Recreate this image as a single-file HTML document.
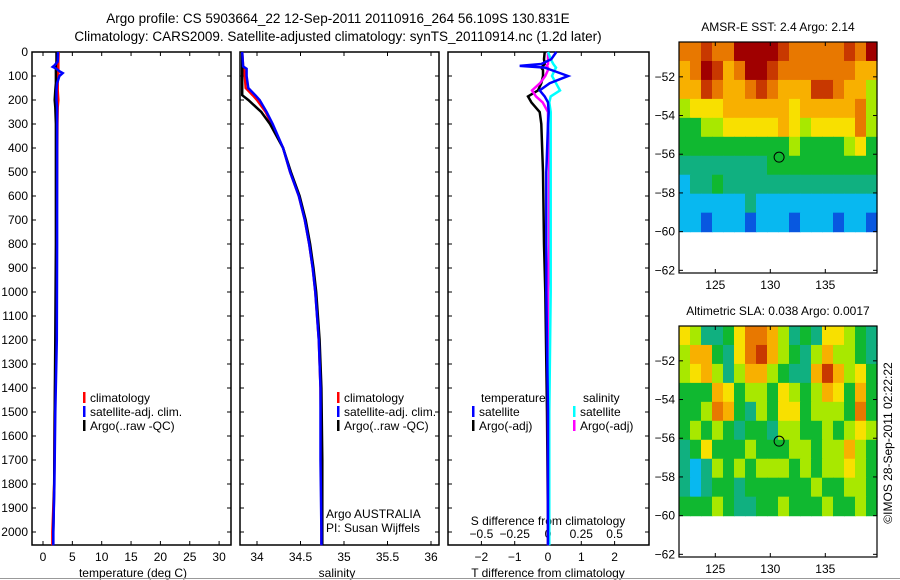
<!DOCTYPE html>
<html><head><meta charset="utf-8"><style>
html,body{margin:0;padding:0;background:#fff;}
svg{display:block;font-family:"Liberation Sans",sans-serif;}
</style></head><body>
<svg id="fig" width="900" height="580" viewBox="0 0 900 580" xmlns="http://www.w3.org/2000/svg">
<rect x="0" y="0" width="900" height="580" fill="#fff"/>
<text x="338" y="23" font-size="13.5" text-anchor="middle">Argo profile: CS 5903664_22 12-Sep-2011 20110916_264 56.109S 130.831E</text>
<text x="338" y="41" font-size="13.5" text-anchor="middle">Climatology: CARS2009. Satellite-adjusted climatology: synTS_20110914.nc (1.2d later)</text>
<g id="layer"></g>
<line x1="0" y1="578.5" x2="900" y2="578.5" stroke="#999" stroke-width="1"/>
</svg>
<script>
// ---- profile data ----
const tDepth = [0, 40, 55, 62, 70, 80, 88, 100, 130, 160, 200, 230, 300, 500, 800, 1200, 1500, 1800, 2000, 2055];
const tClim = [2.65, 2.6, 2.6, 2.6, 2.6, 2.6, 2.6, 2.55, 2.5, 2.5, 2.6, 2.5, 2.45, 2.4, 2.3, 2.2, 2.0, 1.9, 1.6, 1.6];
const tSat = [2.55, 2.5, 2.0, 1.65, 2.3, 2.8, 3.35, 2.8, 2.4, 2.3, 2.3, 2.4, 2.4, 2.4, 2.4, 2.35, 2.1, 1.95, 1.75, 1.75];
const tArgo = [2.3, 2.3, 2.2, 2.2, 2.2, 2.2, 2.2, 2.2, 2.2, 2.1, 2.0, 2.1, 2.2, 2.2, 2.2, 2.1, 2.0, 1.9, 1.75, 1.75];
const sDepth = [0, 60, 70, 100, 150, 180, 200, 250, 300, 400, 500, 600, 700, 800, 900, 1000, 1200, 1400, 1700, 2000, 2055];
const sClim = [33.83, 33.84, 33.85, 33.86, 33.87, 33.95, 34.0, 34.1, 34.17, 34.3, 34.38, 34.48, 34.55, 34.6, 34.64, 34.67, 34.71, 34.73, 34.74, 34.74, 34.74];
const sSat = [33.83, 33.84, 33.88, 33.88, 33.9, 33.98, 34.03, 34.11, 34.18, 34.3, 34.38, 34.48, 34.55, 34.6, 34.64, 34.67, 34.71, 34.73, 34.73, 34.74, 34.74];
const sArgo = [33.83, 33.83, 33.83, 33.83, 33.83, 33.83, 33.9, 34.05, 34.15, 34.3, 34.39, 34.49, 34.56, 34.61, 34.65, 34.68, 34.72, 34.74, 34.75, 34.75, 34.75];
const dDepth = [0, 30, 50, 58, 65, 75, 100, 130, 160, 185, 210, 250, 300, 500, 800, 1000, 1500, 2000, 2055];
const dTsat = [0.25, 0.1, -0.2, -0.85, -0.1, 0.1, 0.6, 0.05, -0.25, -0.1, 0.0, 0.02, 0.0, -0.05, -0.05, -0.05, 0.0, 0.0, 0.0];
const dTargo = [-0.1, -0.12, -0.1, -0.15, -0.2, -0.15, -0.15, -0.2, -0.3, -0.6, -0.5, -0.25, -0.2, -0.15, -0.12, -0.08, -0.03, 0.0, 0.0];
const dSsat = [0.0, 0.02, 0.04, 0.05, 0.06, 0.05, 0.03, 0.06, 0.09, 0.02, 0.01, 0.02, 0.02, 0.02, 0.02, 0.02, 0.01, 0.01, 0.01];
const dSargo = [0.0, 0.0, 0.0, -0.01, 0.0, 0.0, -0.02, -0.06, -0.12, -0.09, -0.04, 0.0, 0.0, 0.01, 0.01, 0.0, 0.0, 0.0, 0.0];
const depthTicks = [0,100,200,300,400,500,600,700,800,900,1000,1100,1200,1300,1400,1500,1600,1700,1800,1900,2000];
const tempTicks = [0,5,10,15,20,25,30];
const salTicks = [34,34.5,35,35.5,36];
const dTTicks = [-2,-1,0,1,2];
const dSTicks = [-0.5,-0.25,0,0.25,0.5];
// ---- map data (colour levels 0 blue .. 9 dark red) ----
const mapLats = [-50.2, -60];
const mapLons = [121.7, 139.7];
const sstGrid = [
[7,7,8,7,7,9,9,9,9,8,7,7,7,7,7,8,7,9],
[6,7,9,8,6,7,9,9,8,7,7,7,7,7,7,7,6,6],
[6,6,8,7,6,6,7,8,7,6,6,6,8,8,7,6,6,4],
[4,5,5,5,6,6,6,6,6,6,5,6,6,6,6,6,7,4],
[3,3,4,4,5,5,5,5,5,6,5,4,5,5,5,5,7,4],
[3,3,3,3,3,3,3,3,3,3,4,3,3,3,3,4,5,3],
[2,2,2,2,2,2,2,2,3,3,3,3,3,3,3,3,3,3],
[1,2,2,3,2,2,2,2,2,2,2,2,2,2,2,2,2,2],
[1,1,1,1,1,1,2,1,1,1,1,1,1,1,1,1,1,1],
[1,1,0,1,1,1,0,1,1,1,0,1,1,1,0,1,1,0]];
const slaGrid = [
[5,4,2,2,3,5,7,7,6,4,2,3,2,5,5,4,3,2],
[4,6,6,3,2,5,7,8,6,4,3,2,4,6,4,4,3,2],
[4,5,6,4,2,4,6,6,4,3,2,2,6,8,6,4,5,3],
[3,3,3,6,5,3,4,4,3,5,4,3,4,6,5,3,6,3],
[3,3,4,7,6,3,2,4,3,5,5,3,4,4,4,3,7,3],
[3,4,3,4,3,2,3,3,2,4,4,3,3,4,3,4,5,4],
[2,3,5,3,3,3,4,3,3,3,4,4,3,4,4,6,4,3],
[2,1,2,4,3,4,3,4,4,4,3,4,3,4,4,5,4,3],
[2,1,2,3,3,2,3,3,3,3,3,3,4,3,3,4,4,3],
[3,3,3,4,3,2,2,3,3,4,3,3,3,4,3,3,4,3]];
const floatPos = [130.8, -56.15];
const latTicks = [-52,-54,-56,-58,-60,-62];
const lonTicks = [125,130,135];

const NS='http://www.w3.org/2000/svg';
const L=document.getElementById('layer');
function mk(tag,a,p){const e=document.createElementNS(NS,tag);for(const k in a)e.setAttribute(k,a[k]);(p||L).appendChild(e);return e;}
function txt(x,y,s,sz,anc,p){const e=mk('text',{x:x,y:y,'font-size':sz||12,'text-anchor':anc||'start'},p);e.textContent=s;return e;}
const yD=d=>52+d*0.24;
function panel(x0,x1,name){
  const g=mk('g',{});
  
  
  const r=mk('rect',{x:x0,y:52,width:x1-x0,height:493,fill:'none',stroke:'#000','stroke-width':1.5},g);
  
  
  depthTicks.forEach(d=>{mk('line',{x1:x0,x2:x0+4,y1:yD(d),y2:yD(d),stroke:'#000'},g);mk('line',{x1:x1-4,x2:x1,y1:yD(d),y2:yD(d),stroke:'#000'},g);});
  return g;
}
function line(g,xs,ds,fx,col,w,name){
  let p='';ds.forEach((d,i)=>{p+=(i?'L':'M')+fx(xs[i]).toFixed(1)+','+yD(d).toFixed(1);});
  const e=mk('path',{d:p,fill:'none',stroke:col,'stroke-width':w||2.5},g);
  
  
}
function legendItem(g,x,y,col,s,name){
  const e=mk('g',{},g);
  
  
  mk('rect',{x:x,y:y-10,width:2.5,height:11,fill:col},e);
  txt(x+7,y,s,12,'start',e);
}
// panel 1 temperature
const fT=t=>43+t*5.87;
const g1=panel(32,231,'temperature-panel');
depthTicks.forEach(d=>txt(28,yD(d)+4,String(d),12,'end',g1));
tempTicks.forEach(t=>{mk('line',{x1:fT(t),x2:fT(t),y1:52,y2:56,stroke:'#000'},g1);mk('line',{x1:fT(t),x2:fT(t),y1:541,y2:545,stroke:'#000'},g1);txt(fT(t),561,String(t),12,'middle',g1);});
txt(133,577,'temperature (deg C)',12,'middle',g1);
line(g1,tClim,tDepth,fT,'#f00',2.5,'temp-climatology-line');
line(g1,tArgo,tDepth,fT,'#000',2.5,'temp-argo-line');
line(g1,tSat,tDepth,fT,'#00f',2.5,'temp-satellite-line');
legendItem(g1,83,402,'#f00','climatology','legend-climatology');
legendItem(g1,83,416,'#00f','satellite-adj. clim.','legend-satellite');
legendItem(g1,83,430,'#000','Argo(..raw -QC)','legend-argo');
// panel 2 salinity
const fS=s=>257+(s-34)*87;
const g2=panel(240,439,'salinity-panel');
salTicks.forEach(s=>{mk('line',{x1:fS(s),x2:fS(s),y1:52,y2:56,stroke:'#000'},g2);mk('line',{x1:fS(s),x2:fS(s),y1:541,y2:545,stroke:'#000'},g2);txt(fS(s),561,String(s),12,'middle',g2);});
txt(337,577,'salinity',12,'middle',g2);
line(g2,sClim,sDepth,fS,'#f00',2.5,'sal-climatology-line');
line(g2,sArgo,sDepth,fS,'#000',2.5,'sal-argo-line');
line(g2,sSat,sDepth,fS,'#00f',2.5,'sal-satellite-line');
legendItem(g2,337,402,'#f00','climatology','legend-climatology-2');
legendItem(g2,337,416,'#00f','satellite-adj. clim.','legend-satellite-2');
legendItem(g2,337,430,'#000','Argo(..raw -QC)','legend-argo-2');
txt(326,518,'Argo AUSTRALIA',12,'start',g2);
txt(326,532,'PI: Susan Wijffels',12,'start',g2);
// panel 3 differences
const fdT=v=>548+v*33.3, fdS=v=>548+v*133.2;
const g3=panel(448,649,'difference-panel');
dTTicks.forEach(t=>{mk('line',{x1:fdT(t),x2:fdT(t),y1:52,y2:56,stroke:'#000'},g3);mk('line',{x1:fdT(t),x2:fdT(t),y1:541,y2:545,stroke:'#000'},g3);txt(fdT(t),561,t<0?'−'+(-t):String(t),12,'middle',g3);});
dSTicks.forEach(t=>txt(fdS(t),538,t<0?'−'+(-t):String(t),12,'middle',g3));
txt(548,525,'S difference from climatology',12,'middle',g3);
txt(548,577,'T difference from climatology',12,'middle',g3);
line(g3,dTargo,dDepth,fdT,'#000',2.5,'tdiff-argo-line');
line(g3,dSargo,dDepth,fdS,'#f0f',2.5,'sdiff-argo-line');
line(g3,dSsat,dDepth,fdS,'#0ff',2.5,'sdiff-satellite-line');
line(g3,dTsat,dDepth,fdT,'#00f',2.5,'tdiff-satellite-line');
txt(481,402,'temperature',12,'start',g3);
txt(583,402,'salinity',12,'start',g3);
legendItem(g3,472,416,'#00f','satellite','legend-tdiff-satellite');
legendItem(g3,472,430,'#000','Argo(-adj)','legend-tdiff-argo');
legendItem(g3,573,416,'#0ff','satellite','legend-sdiff-satellite');
legendItem(g3,573,430,'#f0f','Argo(-adj)','legend-sdiff-argo');
// maps
const pal=['#0858e0','#08b8f0','#10b080','#10b830','#a8e800','#f8e000','#f8b000','#e87800','#c83800','#a00000'];
function map(y0,grid,title,name){
  const x0=679,x1=877,h=231,y1=y0+h;
  const fx=lo=>x0+(lo-mapLons[0])*(x1-x0)/(mapLons[1]-mapLons[0]);
  const fy=la=>y0+(mapLats[0]-la)*19.35;
  const g=mk('g',{});
  
  
  const nr=grid.length,nc=grid[0].length;
  const cw=(x1-x0)/nc, ch=(fy(mapLats[1])-y0)/nr;
  grid.forEach((row,i)=>row.forEach((v,j)=>{
    const c=mk('rect',{x:(x0+j*cw).toFixed(2),y:(y0+i*ch).toFixed(2),width:(cw+0.6).toFixed(2),height:(ch+0.6).toFixed(2),fill:pal[v]},g);
    
    
  }));
  const fr=mk('rect',{x:x0,y:y0,width:x1-x0,height:h,fill:'none',stroke:'#000','stroke-width':1.2},g);
  
  
  latTicks.forEach(la=>{const y=fy(la);mk('line',{x1:x0,x2:x0+4,y1:y,y2:y,stroke:'#000'},g);mk('line',{x1:x1-4,x2:x1,y1:y,y2:y,stroke:'#000'},g);txt(x0-4,y+4,'−'+(-la),12,'end',g);});
  lonTicks.forEach(lo=>{const x=fx(lo);mk('line',{x1:x,x2:x,y1:y0,y2:y0+4,stroke:'#000'},g);mk('line',{x1:x,x2:x,y1:y1-4,y2:y1,stroke:'#000'},g);txt(x,y1+16,String(lo),12,'middle',g);});
  txt(778,y0-11,title,12,'middle',g);
  const c=mk('circle',{cx:fx(floatPos[0]),cy:fy(floatPos[1]),r:5,fill:'none',stroke:'#000','stroke-width':1},g);
  
  
}
map(42,sstGrid,'AMSR-E SST: 2.4 Argo: 2.14','sst-map');
map(326,slaGrid,'Altimetric SLA: 0.038 Argo: 0.0017','sla-map');
const cr=txt(0,0,'©IMOS 28-Sep-2011 02:22:22',12,'middle');
cr.setAttribute('transform','translate(892,443) rotate(-90)');


</script>
</body></html>
